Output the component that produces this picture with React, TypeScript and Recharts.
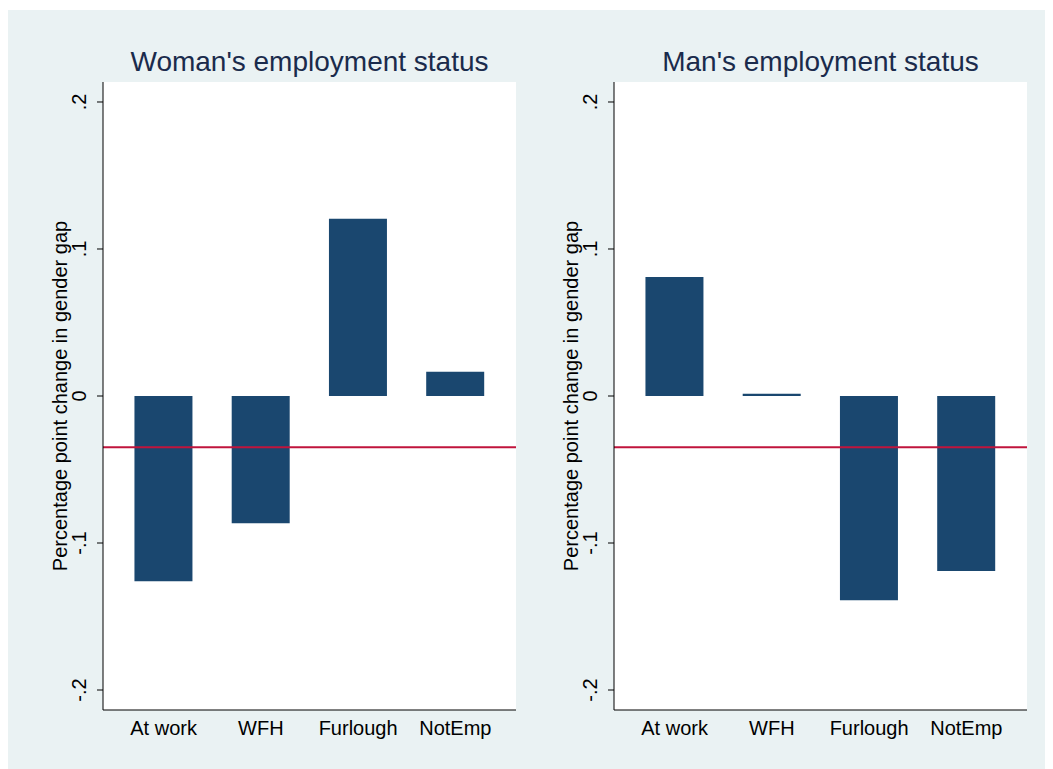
import { Bar, BarChart, CartesianGrid, ReferenceLine, XAxis, YAxis } from 'recharts';

const categories = ['At work', 'WFH', 'Furlough', 'NotEmp'];
const womanValues = [-0.126, -0.0865, 0.1205, 0.0165];
const manValues = [0.081, 0.0015, -0.139, -0.119];
const yTicks = [-0.2, -0.1, 0, 0.1, 0.2];
const yTickLabels = ['-.2', '-.1', '0', '.1', '.2'];
const averageGap = -0.0348;

const FONT = '"Liberation Sans", Arial, Helvetica, sans-serif';
const BG = '#eaf2f3';
const BAR = '#1a476f';

function YTick({ x, y, payload }: any) {
  const i = yTicks.indexOf(payload.value);
  return (
    <text
      x={x}
      y={y}
      transform={`rotate(-90, ${x}, ${y})`}
      textAnchor="middle"
      fontSize={20}
      fill="#000"
      fontFamily={FONT}
    >
      {i >= 0 ? yTickLabels[i] : payload.value}
    </text>
  );
}

function Panel({ title, values, left }: { title: string; values: number[]; left: number }) {
  const data = categories.map((name, i) => ({ name, value: values[i] }));
  return (
    <div style={{ position: 'absolute', left, top: 0, width: 520, height: 749 }}>
      <div
        style={{
          position: 'absolute',
          left: 95,
          width: 413,
          top: 36,
          textAlign: 'center',
          fontSize: 28,
          color: '#1a2b4c',
          fontFamily: FONT,
        }}
      >
        {title}
      </div>
      <BarChart
        width={520}
        height={749}
        data={data}
        margin={{ top: 72, right: 12, bottom: 19, left: 0 }}
        barCategoryGap="20%"
      >
        <rect x={95} y={72} width={413} height={628} fill="#fff" />
        <CartesianGrid horizontal vertical={false} stroke={BG} strokeWidth={1.5} />
        <XAxis
          dataKey="name"
          height={30}
          padding={{ left: 12, right: 12 }}
          tickLine={false}
          tickSize={0}
          tickMargin={11}
          axisLine={{ stroke: '#000', strokeWidth: 1 }}
          tick={{ fill: '#000', fontSize: 20, fontFamily: FONT }}
        />
        <YAxis
          width={95}
          type="number"
          domain={[-0.2136, 0.2136]}
          ticks={yTicks}
          interval={0}
          tickSize={6}
          tickMargin={11}
          tick={<YTick />}
          axisLine={{ stroke: '#000', strokeWidth: 1 }}
          tickLine={{ stroke: '#000' }}
          label={{
            value: 'Percentage point change in gender gap',
            angle: -90,
            position: 'insideLeft',
            offset: 52,
            style: { textAnchor: 'middle', fontSize: 20, fill: '#000', fontFamily: FONT },
          }}
        />
        <Bar dataKey="value" fill={BAR} isAnimationActive={false} />
        <ReferenceLine y={averageGap} stroke="#c0143c" strokeWidth={2} />
      </BarChart>
    </div>
  );
}

export default function App() {
  return (
    <div style={{ paddingTop: 2 }}>
      <style>{'html, body { overflow: hidden; }'}</style>
      <div style={{ position: 'relative', width: 1060, height: 770, background: BG }}>
        <Panel title="Woman's employment status" values={womanValues} left={0} />
        <Panel title="Man's employment status" values={manValues} left={511} />
      </div>
    </div>
  );
}
